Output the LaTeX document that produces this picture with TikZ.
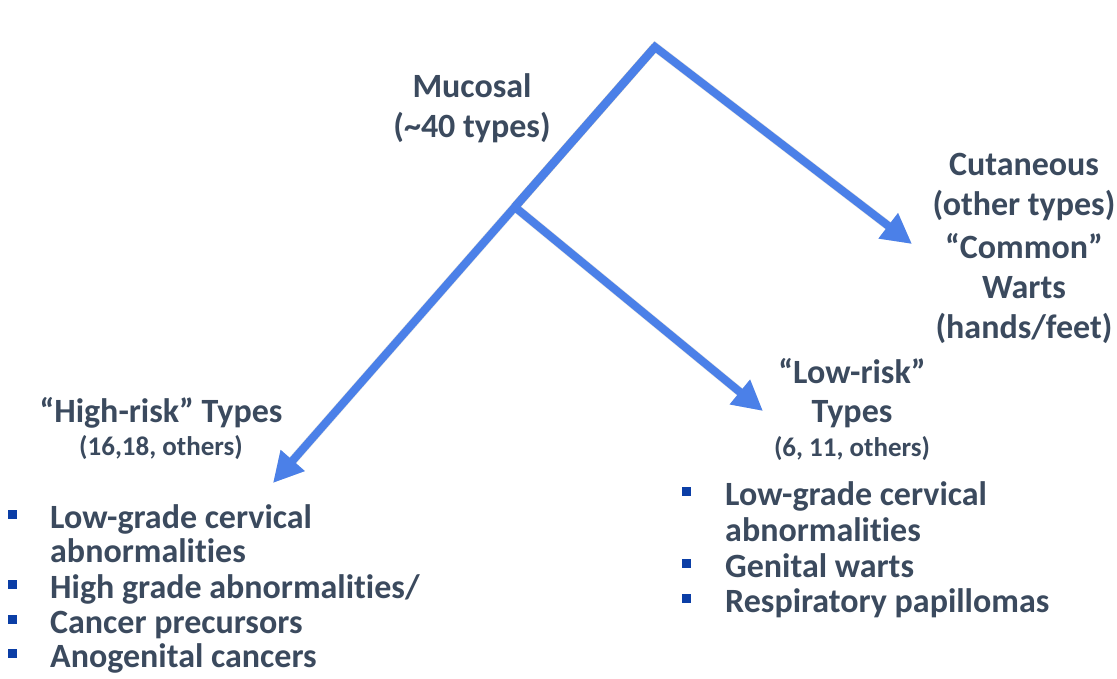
\documentclass[tikz,border=0pt]{standalone}
\usepackage{fontspec}
\setmainfont{Carlito}[Ligatures=NoCommon]
\usetikzlibrary{arrows.meta,calc}
\definecolor{arrowblue}{HTML}{4B80E8}
\definecolor{txt}{HTML}{3B4A5E}
\definecolor{bul}{HTML}{0B3EA6}
\tikzset{
  big/.style={font=\fontsize{34}{40}\selectfont\bfseries, text=txt, inner sep=0pt, anchor=base},
  small/.style={font=\fontsize{27}{32}\selectfont\bfseries, text=txt, inner sep=0pt, anchor=base},
  item/.style={font=\fontsize{34}{40}\selectfont\bfseries, text=txt, inner sep=0pt, anchor=base west},
  bullet/.style={fill=bul, minimum size=9pt, inner sep=0pt, draw=none},
  arr/.style={draw=arrowblue, line width=8pt, line join=miter, -{Triangle[length=30pt,width=30pt]}},
  shad/.style={draw=black, opacity=0.12, line width=9pt, line join=miter, -{Triangle[length=30pt,width=30pt]}},
}
\begin{document}
\begin{tikzpicture}[x=1pt,y=-1pt]
\useasboundingbox (0,0) rectangle (1117,678);
% coordinates
\coordinate (apex) at (655,47);
\coordinate (hightip) at (273,483);
\coordinate (cuttip) at (912,244);
\coordinate (lowtip) at (763,411);
\coordinate (br) at ($(apex)!0.367!(hightip)$);
% shadows
\begin{scope}[shift={(3,4)}]
\draw[shad] (br) -- (apex) -- (cuttip);
\draw[shad] (apex) -- (hightip);
\draw[shad] (br) -- (lowtip);
\end{scope}
% arrows
\draw[arr] (br) -- (apex) -- (cuttip);
\draw[arr] (apex) -- (hightip);
\draw[arr] (br) -- (lowtip);
% Mucosal
\node[big] (muc1) at (472,97) {Mucosal};
\node[big] (muc2) at (472,137) {(\textasciitilde40 types)};
% Cutaneous
\node[big] (cut1) at (1024,175) {Cutaneous};
\node[big] (cut2) at (1024,215) {(other types)};
\node[big] (cut3) at (1024,258) {“Common”};
\node[big] (cut4) at (1024,298) {Warts};
\node[big] (cut5) at (1024,338) {(hands/feet)};
% High-risk
\node[big] (hr1) at (161,422) {“High-risk” Types};
\node[small] (hr2) at (161,455) {(16,18, others)};
% Low-risk
\node[big] (lr1) at (852,383) {“Low-risk”};
\node[big] (lr2) at (852,422) {Types};
\node[small] (lr3) at (852,456) {(6, 11, others)};
% left list
\node[bullet] (b1) at (12,514) {};
\node[item] (l1) at (50,528) {Low-grade cervical};
\node[item] (l2) at (50,562) {abnormalities};
\node[bullet] (b2) at (12,584) {};
\node[item] (l3) at (50,598) {High grade abnormalities/};
\node[bullet] (b3) at (12,619) {};
\node[item] (l4) at (50,633) {Cancer precursors};
\node[bullet] (b4) at (12,653) {};
\node[item] (l5) at (50,667) {Anogenital cancers};
% right list
\node[bullet] (rb1) at (686,491) {};
\node[item] (r1) at (725,505) {Low-grade cervical};
\node[item] (r2) at (725,541) {abnormalities};
\node[bullet] (rb2) at (686,563) {};
\node[item] (r3) at (725,577) {Genital warts};
\node[bullet] (rb3) at (686,598) {};
\node[item] (r4) at (725,612) {Respiratory papillomas};
\end{tikzpicture}
\end{document}
